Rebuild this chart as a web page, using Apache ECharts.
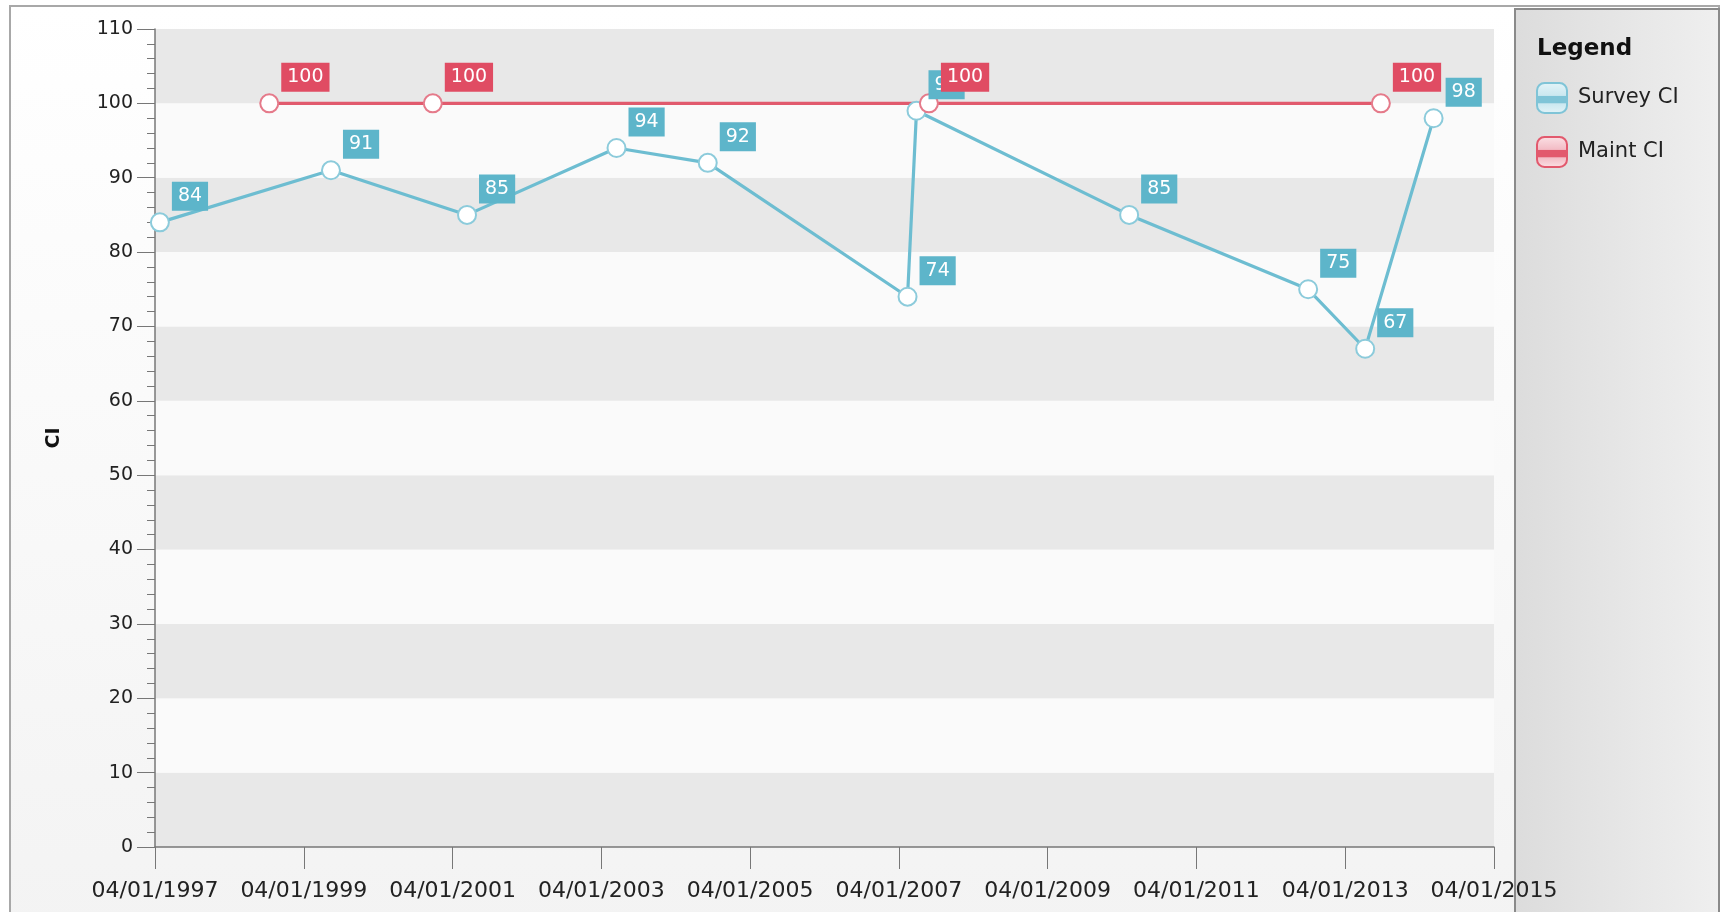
<!DOCTYPE html>
<html>
<head>
<meta charset="utf-8">
<title>CI</title>
<script src="https://cdn.jsdelivr.net/npm/echarts@6/dist/echarts.min.js"></script>
<style>
  html, body { margin: 0; padding: 0; background: #fff; }
  #chart { width: 1723px; height: 912px; }
</style>
</head>
<body>
<div id="chart"></div>
<script>
// survey readings
const surveyDates = ['1997-04-25', '1999-08-13', '2001-06-11', '2003-06-15', '2004-09-05', '2007-05-14',
  '2007-06-27', '2010-05-06', '2012-10-01', '2013-07-08', '2014-06-09'];
const surveyValues = [84, 91, 85, 94, 92, 74, 99, 85, 75, 67, 98];
// maintenance readings
const maintDates = ['1998-10-14', '2000-12-25', '2007-08-27', '2013-09-23'];
const maintValues = [100, 100, 100, 100];
// axis: years counted from 04/01/1997
const axisStartYear = 1997;
const axisYears = 18;
const tickYears = 2;

const FONT = 'DejaVu Sans';

// date string -> years since 04/01/1997
function yearsFromStart(dateStr) {
  const [y, m, d] = dateStr.split('-').map(Number);
  return (Date.UTC(y, m - 1, d) - Date.UTC(axisStartYear, 3, 1)) / (365.25 * 86400000);
}

function toPoints(dates, values) {
  return dates.map((d, i) => [yearsFromStart(d), values[i]]);
}

function labelStyle(bg) {
  return {
    show: true,
    position: 'right',
    distance: 2,
    offset: [0, -26],
    color: '#fff',
    backgroundColor: bg,
    padding: [5, 6, 5, 6],
    fontSize: 19,
    fontFamily: FONT,
  };
}

function iconGradient(light, mid, dark) {
  return {
    type: 'linear', x: 0, y: 0, x2: 0, y2: 1,
    colorStops: [
      { offset: 0, color: light },
      { offset: 0.42, color: mid },
      { offset: 0.45, color: dark },
      { offset: 0.65, color: dark },
      { offset: 0.68, color: mid },
      { offset: 1, color: light },
    ],
  };
}

const myChart = echarts.init(document.getElementById('chart'), null, { renderer: 'canvas' });

const option = {
  animation: false,
  textStyle: { fontFamily: FONT },
  graphic: [
    {
      type: 'rect',
      z: -10,
      shape: { x: 10, y: 6, width: 1709, height: 930 },
      style: {
        fill: {
          type: 'linear', x: 0, y: 0, x2: 0, y2: 1,
          colorStops: [{ offset: 0, color: '#ffffff' }, { offset: 1, color: '#f3f3f3' }],
        },
        stroke: '#a8a8a8',
        lineWidth: 2,
      },
    },
    {
      type: 'rect',
      z: -9,
      shape: { x: 1515, y: 9, width: 204, height: 930 },
      style: {
        fill: {
          type: 'linear', x: 0, y: 0, x2: 1, y2: 0,
          colorStops: [{ offset: 0, color: '#dcdcdc' }, { offset: 1, color: '#efefef' }],
        },
        stroke: '#8a8a8a',
        lineWidth: 2,
      },
    },
  ],
  title: {
    text: 'Legend',
    left: 1532,
    top: 33,
    textStyle: { fontSize: 23, fontWeight: 'bold', color: '#111', fontFamily: FONT },
  },
  legend: {
    orient: 'vertical',
    left: 1536,
    top: 82,
    padding: 0,
    itemWidth: 30,
    itemHeight: 30,
    itemGap: 22,
    icon: 'roundRect',
    textStyle: { fontSize: 21, color: '#222', fontFamily: FONT, padding: [0, 0, 0, 6] },
    data: [
      {
        name: 'Survey CI',
        itemStyle: {
          color: iconGradient('#e4f4f8', '#cbe8f0', '#7fc4d7'),
          borderColor: '#7fc4d7',
          borderWidth: 2,
        },
      },
      {
        name: 'Maint CI',
        itemStyle: {
          color: iconGradient('#fbe2e6', '#f3bcc5', '#e2596d'),
          borderColor: '#e2596d',
          borderWidth: 2,
        },
      },
    ],
  },
  grid: { left: 155, right: 229, top: 29, bottom: 65 },
  xAxis: {
    type: 'value',
    min: 0,
    max: axisYears,
    interval: tickYears,
    axisLine: { show: true, lineStyle: { color: '#777', width: 1.5 } },
    axisTick: { show: true, length: 22, lineStyle: { color: '#777' } },
    axisLabel: {
      formatter: (v) => '04/01/' + (axisStartYear + Math.round(v)),
      margin: 33,
      fontSize: 22,
      color: '#222',
      fontFamily: FONT,
      showMinLabel: true,
      showMaxLabel: true,
    },
    splitLine: { show: false },
  },
  yAxis: {
    type: 'value',
    min: 0,
    max: 110,
    interval: 10,
    name: 'CI',
    nameLocation: 'middle',
    nameGap: 91,
    nameTextStyle: { fontWeight: 'bold', fontSize: 19, color: '#111', fontFamily: FONT },
    axisLine: { show: true, lineStyle: { color: '#777', width: 1.5 } },
    axisTick: { show: true, length: 18, lineStyle: { color: '#777' } },
    minorTick: { show: true, splitNumber: 5, length: 8, lineStyle: { color: '#777' } },
    axisLabel: { margin: 22, fontSize: 19, color: '#222', fontFamily: FONT },
    splitLine: { show: false },
    splitArea: { show: true, areaStyle: { color: ['#e8e8e8', '#fafafa'] } },
  },
  series: [
    {
      name: 'Survey CI',
      type: 'line',
      color: '#6dbdd1',
      data: toPoints(surveyDates, surveyValues),
      clip: false,
      symbol: 'circle',
      symbolSize: 18,
      lineStyle: { color: '#6dbdd1', width: 3.2 },
      itemStyle: { color: '#fff', borderColor: '#8ccbdb', borderWidth: 2 },
      label: labelStyle('#5db5ca'),
    },
    {
      name: 'Maint CI',
      type: 'line',
      color: '#e15a6d',
      data: toPoints(maintDates, maintValues),
      clip: false,
      symbol: 'circle',
      symbolSize: 18,
      lineStyle: { color: '#e15a6d', width: 3.2 },
      itemStyle: { color: '#fff', borderColor: '#e57a8a', borderWidth: 2 },
      label: labelStyle('#e04c63'),
    },
  ],
};

myChart.setOption(option);
</script>
</body>
</html>
